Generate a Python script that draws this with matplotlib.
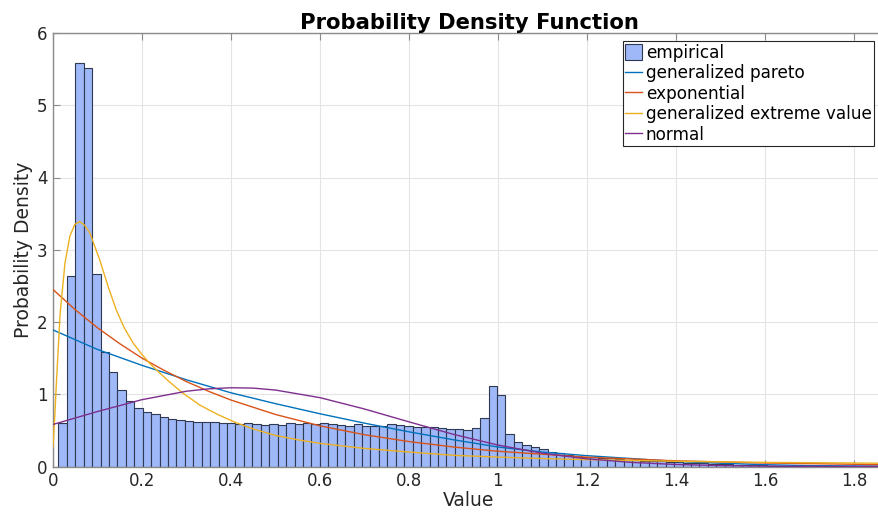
import numpy as np
import matplotlib
matplotlib.use("Agg")
import matplotlib.pyplot as plt

# histogram (empirical pdf), bins start at bin_start with width bin_width
bin_start = 0.012
bin_width = 0.01896
heights = [
    0.60, 2.63, 5.58, 5.51, 2.67, 1.59, 1.31, 1.06, 0.91, 0.81,
    0.75, 0.72, 0.69, 0.66, 0.65, 0.63, 0.61, 0.61, 0.61, 0.60,
    0.60, 0.59, 0.60, 0.59, 0.575, 0.585, 0.575, 0.60, 0.59, 0.60,
    0.59, 0.60, 0.585, 0.575, 0.565, 0.59, 0.565, 0.565, 0.565, 0.585,
    0.575, 0.56, 0.545, 0.545, 0.545, 0.53, 0.52, 0.515, 0.505, 0.53,
    0.67, 1.12, 0.99, 0.45, 0.34, 0.30, 0.265, 0.24, 0.205, 0.19,
    0.16, 0.145, 0.135, 0.13, 0.115, 0.115, 0.10, 0.095, 0.09, 0.08,
    0.075, 0.07, 0.065, 0.06, 0.055, 0.05, 0.045, 0.04, 0.035, 0.03,
    0.025, 0.02, 0.018, 0.015, 0.012, 0.01, 0.008, 0.007, 0.006, 0.005,
    0.004, 0.004, 0.003, 0.003, 0.002, 0.002, 0.002,
]

# fitted curves, points
gp_x = [0, 0.1, 0.2, 0.3, 0.4, 0.5, 0.6, 0.7, 0.8, 0.9, 1.0, 1.1, 1.2, 1.3, 1.4, 1.5, 1.6, 1.7, 1.87]
gp_y = [1.89, 1.62, 1.40, 1.20, 1.02, 0.87, 0.73, 0.60, 0.48, 0.37, 0.27, 0.20, 0.15, 0.11, 0.07, 0.045, 0.025, 0.012, 0.004]

exp_x = [0, 0.05, 0.1, 0.15, 0.2, 0.25, 0.3, 0.35, 0.4, 0.5, 0.6, 0.7, 0.8, 0.9, 1.0, 1.2, 1.4, 1.6, 1.87]
exp_y = [2.45, 2.17, 1.92, 1.70, 1.50, 1.33, 1.175, 1.04, 0.92, 0.72, 0.563, 0.44, 0.345, 0.27, 0.211, 0.129, 0.079, 0.0485, 0.025]

gev_x = [0, 0.004, 0.008, 0.016, 0.027, 0.038, 0.049, 0.060, 0.071, 0.083, 0.105, 0.124, 0.142,
         0.16, 0.18, 0.2, 0.217, 0.232, 0.26, 0.292, 0.33, 0.37, 0.41, 0.45, 0.5, 0.55, 0.6,
         0.7, 0.8, 0.9, 1.0, 1.1, 1.2, 1.4, 1.6, 1.87]
gev_y = [0.27, 0.70, 1.20, 2.12, 2.82, 3.19, 3.35, 3.39, 3.34, 3.23, 2.86, 2.49, 2.17,
         1.92, 1.71, 1.55, 1.43, 1.34, 1.18, 1.015, 0.85, 0.72, 0.61, 0.52, 0.43, 0.37, 0.32,
         0.25, 0.20, 0.155, 0.13, 0.11, 0.095, 0.072, 0.057, 0.045]

norm_x = [0, 0.1, 0.2, 0.3, 0.35, 0.4, 0.45, 0.5, 0.6, 0.7, 0.8, 0.9, 1.0, 1.1, 1.2, 1.3, 1.4, 1.5, 1.6, 1.7, 1.87]
norm_y = [0.582, 0.761, 0.925, 1.042, 1.075, 1.09, 1.085, 1.058, 0.953, 0.796, 0.618, 0.445, 0.297, 0.184, 0.106,
          0.057, 0.028, 0.013, 0.0055, 0.002, 0.0003]

labels = ["empirical", "generalized pareto", "exponential", "generalized extreme value", "normal"]
colors = ["#0072BD", "#D95319", "#EDB120", "#7E2F8E"]

fig = plt.figure(figsize=(8.79, 5.21), dpi=100)
ax = fig.add_axes([53 / 879, 1 - 466.5 / 521, 832 / 879, 433.5 / 521])

edges = bin_start + bin_width * np.arange(len(heights))
bars = ax.bar(edges, heights, width=bin_width, align="edge", color="#9fb8f8",
              edgecolor="#2f3a52", linewidth=0.8, label=labels[0], zorder=2)

handles = [bars]
for (xs, ys), lab, c in zip([(gp_x, gp_y), (exp_x, exp_y), (gev_x, gev_y), (norm_x, norm_y)],
                            labels[1:], colors):
    ln, = ax.plot(xs, ys, color=c, lw=1.0, label=lab, zorder=3)
    handles.append(ln)

ax.set_xlim(0, 1.87)
ax.set_ylim(0, 6)
ax.set_xticks(np.arange(0, 1.81, 0.2))
ax.set_xticklabels(["0", "0.2", "0.4", "0.6", "0.8", "1", "1.2", "1.4", "1.6", "1.8"])
ax.set_yticks(range(0, 7))

ax.grid(True, color="#e4e4e4", lw=0.8, zorder=0)
ax.set_axisbelow(True)
for s in ax.spines.values():
    s.set_color("#8a8a8a")
    s.set_linewidth(1.0)
ax.tick_params(direction="in", length=5, top=True, right=True, colors="#8a8a8a",
               labelcolor="#262626", labelsize=12, pad=4)

ax.set_title("Probability Density Function", fontsize=15.2, fontweight="bold", pad=3)
ax.set_xlabel("Value", fontsize=13.5, color="#262626", labelpad=1)
ax.set_ylabel("Probability Density", fontsize=13.5, color="#262626", labelpad=3)

leg = ax.legend(handles, labels, loc="upper left", bbox_to_anchor=(0.685, 0.981), borderaxespad=0,
                fancybox=False, edgecolor="#262626", framealpha=1, fontsize=12.2,
                handlelength=1.0, handleheight=1.0, handletextpad=0.2,
                labelspacing=0.15, borderpad=0.15)
leg.get_frame().set_linewidth(0.8)

fig.savefig("out.png", dpi=100)
